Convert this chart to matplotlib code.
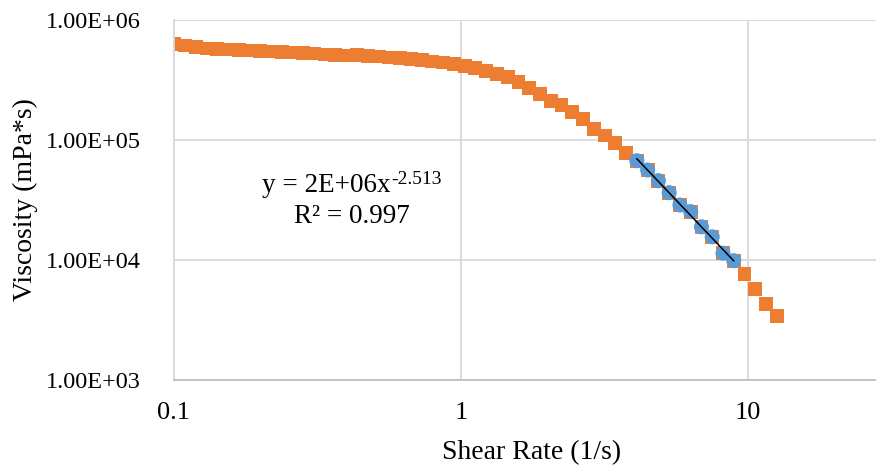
import numpy as np
import matplotlib
matplotlib.use("Agg")
import matplotlib.pyplot as plt

# shear rate (1/s) and viscosity (mPa*s)
shear_rate = [0.100, 0.109, 0.119, 0.130, 0.141, 0.154, 0.168, 0.183, 0.200, 0.218,
              0.237, 0.259, 0.282, 0.307, 0.335, 0.365, 0.398, 0.434, 0.473, 0.516,
              0.562, 0.613, 0.668, 0.729, 0.794, 0.866, 0.944, 1.029, 1.122, 1.223,
              1.334, 1.454, 1.585, 1.728, 1.884, 2.054, 2.239, 2.441, 2.661, 2.901,
              3.162, 3.447, 3.758, 4.097, 4.467, 4.870, 5.309, 5.788, 6.310, 6.879,
              7.499, 8.175, 8.913, 9.716, 10.59, 11.55, 12.59]
viscosity = [628000, 613000, 596000, 579000, 573000, 568000, 562000, 557000, 552000, 546000,
             541000, 536000, 531000, 526000, 516000, 511000, 506000, 508000, 501000, 496000,
             487000, 482000, 473000, 464000, 451000, 442000, 432000, 414000, 396000, 376000,
             355000, 333000, 303000, 273000, 240000, 213000, 195000, 170000, 150000, 124000,
             109000, 93900, 78400, 67200, 56200, 45800, 36400, 28700, 25300, 18900,
             15600, 11400, 9870, 7600, 5730, 4270, 3430]

# power-law region used for the fit
fit_rate = shear_rate[43:53]
fit_visc = viscosity[43:53]

plt.rcParams['font.family'] = ['Liberation Serif', 'DejaVu Serif']

fig = plt.figure(figsize=(8.76, 4.68), dpi=100)
ax = fig.add_axes([174 / 876, 1 - 380 / 468, 702 / 876, 360 / 468])

ax.scatter(shear_rate, viscosity, marker='s', s=100, color='#ED7D31',
           edgecolors='none', zorder=2)
ax.scatter(fit_rate, fit_visc, marker='o', s=118, color='#5B9BD5',
           edgecolors='none', zorder=3)

# power trendline like Excel (fit in log-log space)
b, a = np.polyfit(np.log10(fit_rate), np.log10(fit_visc), 1)
xt = np.array([fit_rate[0], fit_rate[-1]])
ax.plot(xt, 10 ** a * xt ** b, color='black', lw=1.1, zorder=4)

ax.set_xscale('log')
ax.set_yscale('log')
ax.set_xlim(0.1, 27.9)
ax.set_ylim(1e3, 1e6)
ax.set_xticks([0.1, 1, 10])
ax.set_xticklabels(['0.1', '1', '10'])
ax.set_yticks([1e3, 1e4, 1e5, 1e6])
ax.set_yticklabels(['1.00E+03', '1.00E+04', '1.00E+05', '1.00E+06'])
ax.minorticks_off()
ax.tick_params(axis='both', length=0, colors='black')
ax.tick_params(axis='y', pad=24, labelsize=17.5)
ax.tick_params(axis='x', pad=16, labelsize=19)

ax.grid(True, which='major', color='#d9d9d9', lw=1.3)
ax.set_axisbelow(True)
for side in ['top', 'right']:
    ax.spines[side].set_visible(False)
ax.spines['left'].set_color('#d9d9d9')
ax.spines['bottom'].set_color('#bfbfbf')
ax.spines['left'].set_linewidth(1.3)
ax.spines['bottom'].set_linewidth(1.3)

ax.set_xlabel('Shear Rate (1/s)', fontsize=20)
ax.xaxis.label.set_va('center')
ax.xaxis.set_label_coords((532 - 174) / 702, (380 - 453) / 360)
ax.set_ylabel('Viscosity (mPa*s)', fontsize=20)
ax.yaxis.label.set_va('center')
ax.yaxis.set_label_coords((25 - 174) / 702, (380 - 200) / 360)

# trendline equation, exponent drawn as its own superscript text
base = fig.text(262 / 876, 1 - 192 / 468, 'y = 2E+06x',
                fontsize=19.5, ha='left', va='baseline')
fig.canvas.draw()
bb = base.get_window_extent()
fig.text(bb.x1 / 876 + 0.001, 1 - 183.5 / 468, '-2.513',
         fontsize=14, ha='left', va='baseline')
fig.text(352 / 876, 1 - 223 / 468, 'R² = 0.997',
         fontsize=19.5, ha='center', va='baseline')

fig.savefig('out.png', dpi=100)
